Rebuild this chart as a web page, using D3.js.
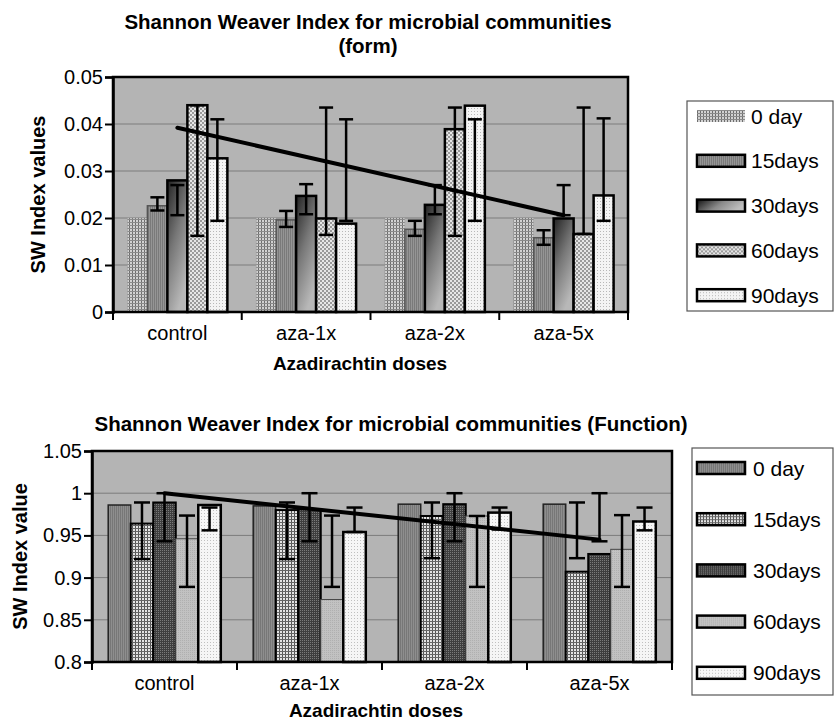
<!DOCTYPE html>
<html><head><meta charset="utf-8">
<script src="https://cdn.jsdelivr.net/npm/d3@7/dist/d3.min.js"></script>
<style>body{margin:0;background:#fff}svg{display:block;font-family:"Liberation Sans",Arial,sans-serif}</style>
</head><body><svg id="c" width="834" height="721"></svg>
<script>
// ---------- DATA ----------
const categories = ["control", "aza-1x", "aza-2x", "aza-5x"];
const seriesNames = ["0 day", "15days", "30days", "60days", "90days"];

// Top chart: Shannon Weaver Index (form)
const formValues = {
  "0 day":  [0.020, 0.020, 0.020, 0.020],
  "15days": [0.0226, 0.0196, 0.0176, 0.0158],
  "30days": [0.028, 0.0247, 0.0228, 0.0199],
  "60days": [0.044, 0.0199, 0.0389, 0.0166],
  "90days": [0.0327, 0.0188, 0.0439, 0.0248]
};
const formErrLow = {
  "0 day":  [null, null, null, null],
  "15days": [0.0216, 0.0181, 0.0162, 0.0143],
  "30days": [0.0206, 0.0208, 0.0208, 0.0206],
  "60days": [0.0162, 0.0164, 0.0162, 0.0166],
  "90days": [0.0194, 0.0194, 0.0194, 0.0194]
};
const formErrHigh = {
  "0 day":  [null, null, null, null],
  "15days": [0.0244, 0.0215, 0.0194, 0.0174],
  "30days": [0.027, 0.0272, 0.027, 0.027],
  "60days": [0.044, 0.0435, 0.0435, 0.0435],
  "90days": [0.041, 0.041, 0.041, 0.0412]
};
const formTrend = [0.0392, 0.0206]; // 30days trend: control -> aza-5x
const formTicks = [0, 0.01, 0.02, 0.03, 0.04, 0.05];

// Bottom chart: Shannon Weaver Index (Function)
const funcValues = {
  "0 day":  [0.986, 0.985, 0.987, 0.987],
  "15days": [0.964, 0.980, 0.973, 0.907],
  "30days": [0.989, 0.981, 0.987, 0.928],
  "60days": [0.946, 0.874, 0.973, 0.9335],
  "90days": [0.986, 0.954, 0.977, 0.9665]
};
const funcErrLow = {
  "0 day":  [null, null, null, null],
  "15days": [0.922, 0.922, 0.923, 0.923],
  "30days": [0.943, 0.943, 0.943, 0.943],
  "60days": [0.889, 0.889, 0.889, 0.889],
  "90days": [0.956, 0.954, 0.957, 0.956]
};
const funcErrHigh = {
  "0 day":  [null, null, null, null],
  "15days": [0.989, 0.989, 0.989, 0.989],
  "30days": [1.0, 1.0, 1.0, 1.0],
  "60days": [0.9735, 0.9735, 0.973, 0.974],
  "90days": [0.983, 0.983, 0.983, 0.983]
};
const funcTrend = [1.0, 0.945];
const funcTicks = [0.8, 0.85, 0.9, 0.95, 1.0, 1.05];

// ---------- DRAW ----------
const svg = d3.select("#c");
const defs = svg.append("defs");

function pattern(id, w, h, bg, draw) {
  const p = defs.append("pattern").attr("id", id).attr("patternUnits", "userSpaceOnUse")
    .attr("width", w).attr("height", h);
  p.append("rect").attr("width", w).attr("height", h).attr("fill", bg);
  draw(p);
}
// top fills
pattern("t0", 3, 3, "#d2d2d2", p => {
  p.append("rect").attr("width", 1).attr("height", 3).attr("fill", "#6e6e6e");
  p.append("rect").attr("width", 3).attr("height", 1).attr("fill", "#8a8a8a");
});
pattern("t15", 2, 2, "#959595", p => {
  p.append("rect").attr("width", 1).attr("height", 2).attr("fill", "#7a7a7a");
});
const g30 = defs.append("linearGradient").attr("id", "t30").attr("x1", 0).attr("y1", 0).attr("x2", 1).attr("y2", 0.35);
g30.append("stop").attr("offset", 0).attr("stop-color", "#111");
g30.append("stop").attr("offset", 0.55).attr("stop-color", "#8a8a8a");
g30.append("stop").attr("offset", 1).attr("stop-color", "#bdbdbd");
const g30v = defs.append("linearGradient").attr("id", "t30b").attr("x1", 0).attr("y1", 0).attr("x2", 0.5).attr("y2", 1);
g30v.append("stop").attr("offset", 0).attr("stop-color", "#222");
g30v.append("stop").attr("offset", 0.5).attr("stop-color", "#777");
g30v.append("stop").attr("offset", 1).attr("stop-color", "#b8b8b8");
pattern("t60", 4, 4, "#e6e6e6", p => {
  p.append("rect").attr("width", 2).attr("height", 2).attr("fill", "#9a9a9a");
  p.append("rect").attr("x", 2).attr("y", 2).attr("width", 2).attr("height", 2).attr("fill", "#9a9a9a");
});
pattern("t90", 3, 3, "#f4f4f4", p => {
  p.append("rect").attr("width", 1).attr("height", 1).attr("fill", "#b8b8b8");
});
// bottom fills
pattern("b0", 2, 2, "#8e8e8e", p => {
  p.append("rect").attr("width", 1).attr("height", 2).attr("fill", "#777");
});
pattern("b15", 3, 3, "#e4e4e4", p => {
  p.append("rect").attr("width", 1).attr("height", 3).attr("fill", "#555");
  p.append("rect").attr("width", 3).attr("height", 1).attr("fill", "#666");
});
pattern("b30", 2, 2, "#3e3e3e", p => {
  p.append("rect").attr("width", 1).attr("height", 1).attr("fill", "#7a7a7a");
});
pattern("b60", 2, 2, "#c2c2c2", p => {
  p.append("rect").attr("width", 1).attr("height", 1).attr("fill", "#b0b0b0");
});
pattern("b90", 3, 3, "#f6f6f6", p => {
  p.append("rect").attr("width", 1).attr("height", 1).attr("fill", "#c0c0c0");
});

const topStyles = {
  "0 day":  {fill: "url(#t0)", stroke: "#9a9a9a", sw: 0.5, lfill: "url(#t0)", lsw: 0},
  "15days": {fill: "url(#t15)", stroke: "#555", sw: 1.5, lfill: "url(#t15)", lsw: 2.5},
  "30days": {fill: "url(#t30b)", stroke: "#000", sw: 2.5, lfill: "url(#t30)", lsw: 2.5},
  "60days": {fill: "url(#t60)", stroke: "#000", sw: 2.5, lfill: "url(#t60)", lsw: 2.5},
  "90days": {fill: "url(#t90)", stroke: "#000", sw: 2.5, lfill: "url(#t90)", lsw: 2.5}
};
const botStyles = {
  "0 day":  {fill: "url(#b0)", stroke: "#222", sw: 1.5, lfill: "url(#b0)", lsw: 2.5},
  "15days": {fill: "url(#b15)", stroke: "#000", sw: 2, lfill: "url(#b15)", lsw: 2.5},
  "30days": {fill: "url(#b30)", stroke: "#000", sw: 2, lfill: "url(#b30)", lsw: 2.5},
  "60days": {fill: "url(#b60)", stroke: "#444", sw: 1, lfill: "url(#b60)", lsw: 2.5},
  "90days": {fill: "url(#b90)", stroke: "#000", sw: 2.5, lfill: "url(#b90)", lsw: 2.5}
};

const FONT = 20;

function chart(cfg) {
  const x0 = d3.scaleBand().domain(categories).range([cfg.left, cfg.right]);
  const x1 = d3.scaleBand().domain(seriesNames).range([0, x0.bandwidth()]).paddingInner(0).paddingOuter(0.72);
  const y = d3.scaleLinear().domain(cfg.domain).range([cfg.bottom, cfg.top]);
  const g = svg.append("g");
  g.append("rect").attr("x", cfg.left).attr("y", cfg.top).attr("width", cfg.right - cfg.left)
    .attr("height", cfg.bottom - cfg.top).attr("fill", "#b4b4b4");
  g.append("g").selectAll("line").data(cfg.ticks.slice(1, -1)).join("line")
    .attr("x1", cfg.left).attr("x2", cfg.right).attr("y1", d => y(d)).attr("y2", d => y(d))
    .attr("stroke", "#7c7c7c").attr("stroke-width", 1);
  const data = [];
  categories.forEach((c, i) => seriesNames.forEach(s => data.push({
    c, s, v: cfg.values[s][i], lo: cfg.lo[s][i], hi: cfg.hi[s][i]})));
  const ys = cfg.domain[0];
  g.append("g").selectAll("rect").data(data).join("rect")
    .attr("x", d => x0(d.c) + x1(d.s)).attr("width", x1.bandwidth())
    .attr("y", d => y(d.v)).attr("height", d => y(ys) - y(d.v))
    .attr("fill", d => cfg.styles[d.s].fill).attr("stroke", d => cfg.styles[d.s].stroke)
    .attr("stroke-width", d => cfg.styles[d.s].sw);
  const eb = g.append("g").attr("stroke", "#000").attr("stroke-width", 2.5);
  const ed = data.filter(d => d.lo != null);
  const cx = d => x0(d.c) + x1(d.s) + x1.bandwidth() / 2;
  eb.selectAll(".v").data(ed).join("line").attr("x1", cx).attr("x2", cx)
    .attr("y1", d => y(d.lo)).attr("y2", d => y(d.hi));
  eb.selectAll(".h").data(ed.flatMap(d => [{d, v: d.lo}, {d, v: d.hi}])).join("line")
    .attr("x1", e => cx(e.d) - cfg.cap).attr("x2", e => cx(e.d) + cfg.cap)
    .attr("y1", e => y(e.v)).attr("y2", e => y(e.v));
  const tx = [x0(categories[0]) + x1("30days") + x1.bandwidth() / 2,
              x0(categories[3]) + x1("30days") + x1.bandwidth() / 2];
  g.append("line").attr("x1", tx[0]).attr("x2", tx[1]).attr("y1", y(cfg.trend[0])).attr("y2", y(cfg.trend[1]))
    .attr("stroke", "#000").attr("stroke-width", 4).attr("stroke-linecap", "round");
  g.append("rect").attr("x", cfg.left).attr("y", cfg.top).attr("width", cfg.right - cfg.left)
    .attr("height", cfg.bottom - cfg.top).attr("fill", "none").attr("stroke", "#000").attr("stroke-width", 2.5);
  const ya = g.append("g").attr("transform", `translate(${cfg.left},0)`)
    .call(d3.axisLeft(y).tickValues(cfg.ticks).tickSize(8).tickPadding(2).tickFormat(cfg.fmt));
  ya.select(".domain").attr("stroke-width", 2.5);
  ya.selectAll(".tick line").attr("stroke-width", 2);
  ya.selectAll("text").attr("font-size", FONT).attr("font-family", "Liberation Sans, Arial").attr("fill", "#000");
  const xa = g.append("g").attr("transform", `translate(0,${cfg.bottom})`)
    .call(d3.axisBottom(x0).tickSize(0).tickPadding(cfg.xpad));
  xa.select(".domain").remove();
  xa.selectAll("text").attr("font-size", FONT).attr("font-family", "Liberation Sans, Arial").attr("fill", "#000");
  const bounds = categories.map(c => x0(c)).concat([x0.range()[1]]);
  g.append("g").selectAll("line").data(bounds).join("line")
    .attr("x1", d => d).attr("x2", d => d).attr("y1", cfg.bottom).attr("y2", cfg.bottom + 8)
    .attr("stroke", "#000").attr("stroke-width", 2);
  cfg.title.forEach((t, i) => g.append("text").attr("x", cfg.titleX).attr("y", cfg.titleY + i * 24)
    .attr("text-anchor", "middle").attr("font-weight", "bold").attr("font-size", cfg.titleSize).text(t));
  g.append("text").attr("x", cfg.xTitleX).attr("y", cfg.xTitleY).attr("text-anchor", "middle")
    .attr("font-weight", "bold").attr("font-size", 19).text("Azadirachtin doses");
  g.append("text").attr("transform", `translate(${cfg.yTitleX},${(cfg.top + cfg.bottom) / 2}) rotate(-90)`)
    .attr("text-anchor", "middle").attr("font-weight", "bold").attr("font-size", 20).text(cfg.yTitle);
  const L = cfg.legend;
  g.append("rect").attr("x", L.x).attr("y", L.y).attr("width", L.w).attr("height", L.h)
    .attr("fill", "#fff").attr("stroke", "#555").attr("stroke-width", 1.2);
  const li = g.append("g").selectAll("g").data(seriesNames).join("g")
    .attr("transform", (d, i) => `translate(${L.sx},${L.y0 + i * L.dy})`);
  li.append("rect").attr("x", 0).attr("y", -6).attr("width", 48).attr("height", 12)
    .attr("fill", d => cfg.styles[d].lfill).attr("stroke", "#000")
    .attr("stroke-width", d => cfg.styles[d].lsw);
  li.append("text").attr("x", L.tx).attr("y", 7.5).attr("font-size", 21).text(d => d);
}

chart({
  left: 113, right: 628, top: 77, bottom: 312, domain: [0, 0.05], ticks: formTicks,
  fmt: d => d === 0 ? "0" : d3.format(".2f")(d),
  values: formValues, lo: formErrLow, hi: formErrHigh, trend: formTrend, styles: topStyles, cap: 7,
  xpad: 14, title: ["Shannon Weaver Index for microbial communities", "(form)"], titleX: 368, titleY: 29,
  titleSize: 20.5, xTitleX: 360, xTitleY: 370, yTitle: "SW Index values", yTitleX: 45,
  legend: {x: 687, y: 101, w: 146, h: 210, y0: 116, dy: 44.8, sx: 697, tx: 54}
});
chart({
  left: 92, right: 672, top: 451, bottom: 662, domain: [0.8, 1.05], ticks: funcTicks,
  fmt: d => String(+d.toFixed(2)),
  values: funcValues, lo: funcErrLow, hi: funcErrHigh, trend: funcTrend, styles: botStyles, cap: 8,
  xpad: 14, title: ["Shannon Weaver Index for microbial communities (Function)"], titleX: 391, titleY: 431,
  titleSize: 20.5, xTitleX: 376, xTitleY: 717, yTitle: "SW Index value", yTitleX: 27,
  legend: {x: 692, y: 448, w: 141, h: 247, y0: 468, dy: 51.2, sx: 697, tx: 56}
});
</script></body></html>
